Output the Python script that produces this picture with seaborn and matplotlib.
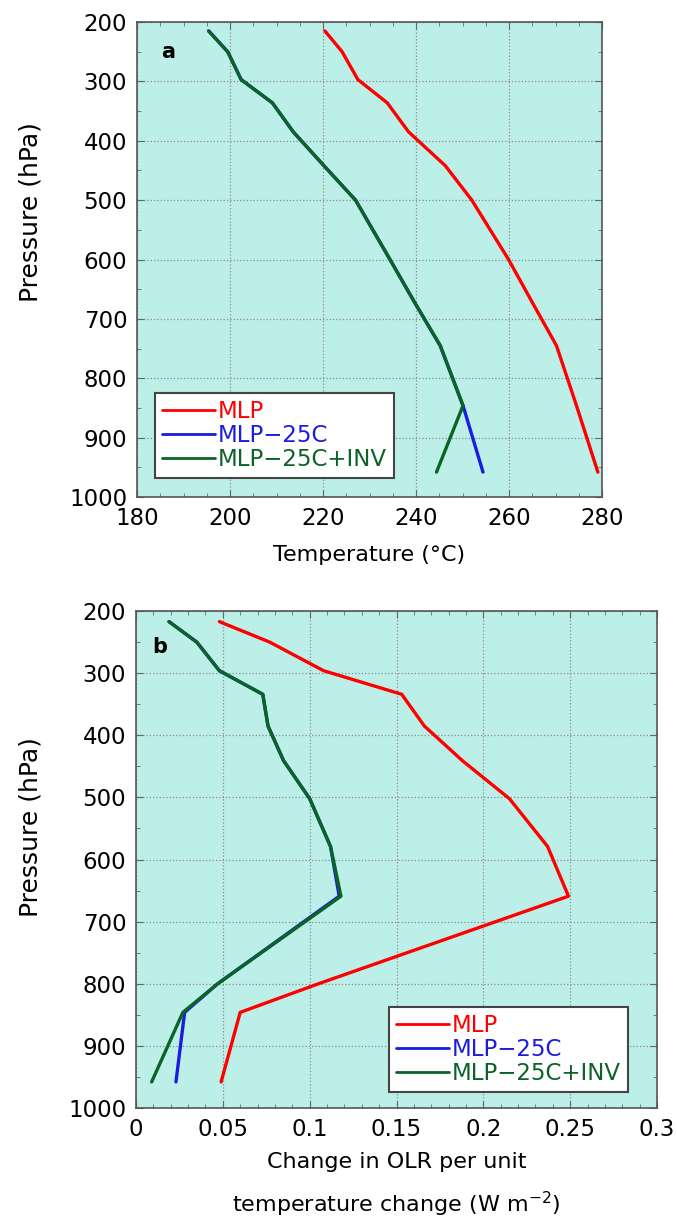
import matplotlib
matplotlib.use("Agg")
import matplotlib.pyplot as plt
from matplotlib.ticker import MultipleLocator, FuncFormatter
import pandas as pd
import seaborn as sns

# PANEL A - temperature profiles
pres_a = [215, 250, 297, 336, 385, 442, 500, 600, 675, 745, 846, 958]
temp_mlp = [220.4, 224.1, 227.5, 233.8, 238.4, 246.3, 252.0, 259.9, 265.2, 270.2, 274.5, 279.1]
temp_25c = [195.4, 199.5, 202.4, 209.1, 213.6, 220.2, 227.0, 234.4, 239.9, 245.2, 250.1, 254.4]
temp_inv = [195.4, 199.5, 202.4, 209.1, 213.6, 220.2, 227.0, 234.4, 239.9, 245.2, 250.1, 244.4]

# PANEL B - change in OLR per unit temperature change
pres_b = [217, 250, 296, 334, 385, 441, 502, 579, 659, 800, 846, 958]
olr_mlp = [0.048, 0.077, 0.108, 0.153, 0.166, 0.188, 0.215, 0.237, 0.249, 0.105, 0.060, 0.049]
olr_25c = [0.019, 0.035, 0.048, 0.073, 0.076, 0.085, 0.100, 0.112, 0.117, 0.047, 0.028, 0.023]
olr_inv = [0.019, 0.035, 0.048, 0.073, 0.076, 0.085, 0.100, 0.112, 0.118, 0.047, 0.027, 0.009]

cases = ["MLP", "MLP\u221225C", "MLP\u221225C+INV"]
colours = dict(zip(cases, ["#ff0000", "#1c1ce0", "#0b6326"]))

sns.set_style("ticks")
plt.rcParams["font.family"] = ["DejaVu Sans"]
plt.rcParams["text.color"] = "black"
plt.rcParams["axes.labelcolor"] = "black"


def longform(pres, *vals):
    frames = []
    for case, v in zip(cases, vals):
        frames.append(pd.DataFrame({"pressure": pres, "value": v, "case": case}))
    return pd.concat(frames, ignore_index=True)


def style_axes(ax, xlim, xmajor, xminor, ylab_x, ylab_y):
    ax.set_facecolor("#bdefe9")
    ax.set_axisbelow(True)
    ax.set_xlim(*xlim)
    ax.set_ylim(1000, 200)
    ax.xaxis.set_major_locator(MultipleLocator(xmajor))
    ax.xaxis.set_minor_locator(MultipleLocator(xminor))
    ax.yaxis.set_major_locator(MultipleLocator(100))
    ax.yaxis.set_minor_locator(MultipleLocator(50))
    ax.grid(which="major", ls=":", color="#8c8c8c", lw=0.9)
    ax.tick_params(which="both", direction="in", top=True, right=True,
                   color="#666666", labelcolor="black", labelsize=16.5, pad=7)
    ax.tick_params(which="major", length=5)
    ax.tick_params(which="minor", length=3)
    for sp in ax.spines.values():
        sp.set_color("#555555")
        sp.set_linewidth(1.2)
    ax.set_ylabel("Pressure (hPa)", fontsize=18, va="center")
    ax.yaxis.set_label_coords(ylab_x, ylab_y)


def draw(ax, df, legend_loc, legend_anchor):
    sns.lineplot(data=df, x="value", y="pressure", hue="case", palette=colours,
                 sort=False, estimator=None, lw=2.4, ax=ax)
    handles, labels = ax.get_legend_handles_labels()
    leg = ax.legend(handles, labels, loc=legend_loc, bbox_to_anchor=legend_anchor,
                    borderaxespad=0, fontsize=16.5, fancybox=False, framealpha=1,
                    edgecolor="#444444", handlelength=2.3, handletextpad=0.15,
                    labelspacing=0.05, borderpad=0.3)
    leg.get_frame().set_linewidth(1.5)
    for txt, line in zip(leg.get_texts(), leg.get_lines()):
        txt.set_color(line.get_color())
        line.set_linewidth(2.0)


fig = plt.figure(figsize=(6.77, 12.18), dpi=100)
ax1 = fig.add_axes([0.2024, 0.5919, 0.6869, 0.390])
ax2 = fig.add_axes([0.2009, 0.0903, 0.7696, 0.408])

# panel a
style_axes(ax1, (180, 280), 20, 5, -0.23, 0.6)
draw(ax1, longform(pres_a, temp_mlp, temp_25c, temp_inv), "lower left", (0.039, 0.04))
ax1.set_xlabel("Temperature (\u00b0C)", fontsize=16, labelpad=11)
ax1.text(0.067, 0.936, "a", transform=ax1.transAxes, fontsize=15,
         fontweight="bold", ha="center", va="center")

# panel b
style_axes(ax2, (0, 0.3), 0.05, 0.01, -0.203, 0.565)
ax2.xaxis.set_major_formatter(FuncFormatter(lambda v, p: "%g" % round(v, 2)))
draw(ax2, longform(pres_b, olr_mlp, olr_25c, olr_inv), "lower right", (0.944, 0.032))
ax2.set_xlabel("Change in OLR per unit\ntemperature change (W m$^{-2}$)",
               fontsize=16, labelpad=8, linespacing=1.8)
ax2.text(0.046, 0.928, "b", transform=ax2.transAxes, fontsize=15,
         fontweight="bold", ha="center", va="center")

fig.savefig("out.png", dpi=100)
